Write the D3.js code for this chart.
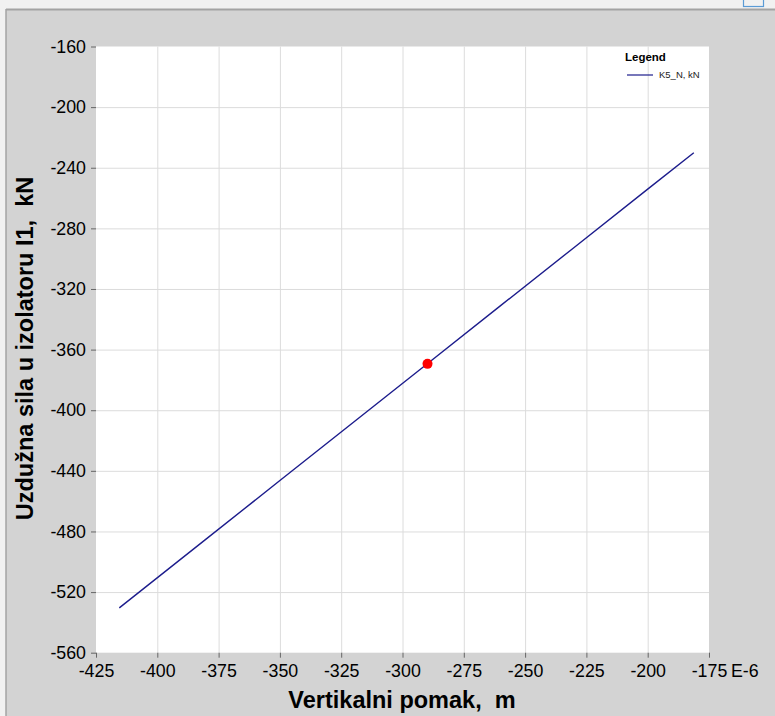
<!DOCTYPE html>
<meta charset="utf-8">

<style>
body { margin: 0; background: #f1f1f1; }
text { font-family: "Liberation Sans", Arial, sans-serif; fill: #000; }
.grid line { stroke: #dcdcdc; stroke-width: 1; }
.tick text { font-size: 17.8px; }
.title { font-size: 23.5px; font-weight: bold; }
</style>

<body>
<svg width=775 height=716></svg>
</body>

<script src="https://d3js.org/d3.v7.min.js"></script>
<script>
// tick values
const xTicks = [-425, -400, -375, -350, -325, -300, -275, -250, -225, -200, -175]
const yTicks = [-160, -200, -240, -280, -320, -360, -400, -440, -480, -520, -560]

// series K5_N (vertical displacement E-6 m vs axial force kN)
const disp  = [-415.5, -380, -350, -320, -290, -260, -230, -200, -181.2]
const force = [-530.4, -484.9, -446.4, -407.9, -369.5, -331.0, -292.6, -254.1, -230.1]

// marked current point
const markDisp = [-289.8]
const markForce = [-369.4]

const seriesName = "K5_N, kN"

const svg = d3.select("svg")

// window frame
svg.append("rect").attr("x", 6).attr("y", 9).attr("width", 769).attr("height", 707).attr("fill", "#d3d3d3")
svg.append("line").attr("x1", 6).attr("x2", 775).attr("y1", 9.5).attr("y2", 9.5).attr("stroke", "#a3a3a3").attr("stroke-width", 2)
svg.append("line").attr("x1", 6).attr("x2", 6).attr("y1", 9).attr("y2", 716).attr("stroke", "#a3a3a3").attr("stroke-width", 1.5)
svg.append("rect").attr("x", 743.5).attr("y", -3).attr("width", 20).attr("height", 9.5)
  .attr("fill", "none").attr("stroke", "#5b9bd5").attr("stroke-width", 1.2)

const plotL = 96, plotR = 709, plotT = 46.5, plotB = 652.7

const x = d3.scaleLinear().domain([-425, -175]).range([plotL, plotR])
const y = d3.scaleLinear().domain([-560, -160]).range([plotB, plotT])

svg.append("rect").attr("x", plotL).attr("y", plotT).attr("width", plotR - plotL).attr("height", plotB - plotT).attr("fill", "#fff")

// grid
const grid = svg.append("g").attr("class", "grid")
grid.selectAll(".gx").data(xTicks.slice(1, -1)).enter().append("line")
  .attr("x1", (d) => x(d) + 0.5).attr("x2", (d) => x(d) + 0.5)
  .attr("y1", plotT).attr("y2", plotB)
grid.selectAll(".gy").data(yTicks.slice(1, -1)).enter().append("line")
  .attr("x1", plotL).attr("x2", plotR)
  .attr("y1", (d) => y(d) + 0.5).attr("y2", (d) => y(d) + 0.5)

// axes
const xAxis = svg.append("g")
  .attr("transform", `translate(0,${plotB})`)
  .call(d3.axisBottom(x).tickValues(xTicks).tickFormat(d3.format("d")).tickSize(5).tickSizeOuter(0).tickPadding(7))
xAxis.select(".domain").remove()
xAxis.selectAll(".tick line").attr("stroke", "#666")

const yAxis = svg.append("g")
  .attr("transform", `translate(${plotL},0)`)
  .call(d3.axisLeft(y).tickValues(yTicks).tickFormat(d3.format("d")).tickSize(5).tickSizeOuter(0).tickPadding(5))
yAxis.select(".domain").remove()
yAxis.selectAll(".tick line").attr("stroke", "#666")

// plain hyphen instead of unicode minus
svg.selectAll(".tick text").text((d) => String(d))

svg.append("text").attr("x", 731).attr("y", plotB + 24.5).attr("font-size", 17.8).text("E-6")

// titles
svg.append("text").attr("class", "title")
  .attr("x", 402).attr("y", 708).attr("text-anchor", "middle")
  .style("white-space", "pre")
  .text("Vertikalni pomak,  m")
svg.append("text").attr("class", "title")
  .attr("transform", "translate(33,348.5) rotate(-90)").attr("text-anchor", "middle")
  .style("white-space", "pre")
  .text("Uzdužna sila u izolatoru I1,  kN")

// series line
const pts = disp.map((d, i) => [d, force[i]])
svg.append("path")
  .datum(pts)
  .attr("fill", "none")
  .attr("stroke", "#1c1c8c")
  .attr("stroke-width", 1.4)
  .attr("d", d3.line().x((d) => x(d[0])).y((d) => y(d[1])))

svg.selectAll(".mark").data(markDisp).enter().append("circle")
  .attr("cx", (d) => x(d)).attr("cy", (d, i) => y(markForce[i]))
  .attr("r", 5).attr("fill", "#ff0000")

// legend
svg.append("text").attr("x", 625).attr("y", 60.5)
  .attr("font-size", 11.5).attr("font-weight", "bold").text("Legend")
svg.append("line").attr("x1", 627).attr("x2", 653).attr("y1", 75).attr("y2", 75)
  .attr("stroke", "#1c1c8c").attr("stroke-width", 1.2)
svg.append("text").attr("x", 659).attr("y", 78.3)
  .attr("font-size", 9.5).style("fill", "#222").text(seriesName)
</script>
